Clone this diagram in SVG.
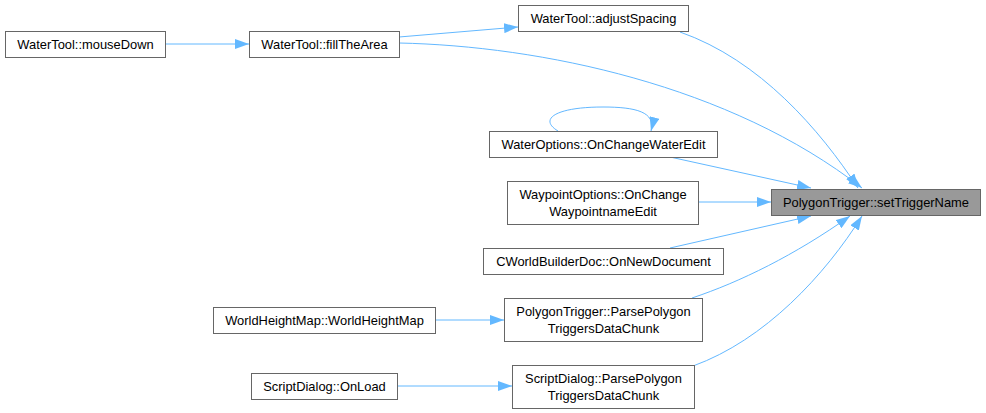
<svg xmlns="http://www.w3.org/2000/svg" width="986" height="413" viewBox="0 0 986 413">
<defs>
<style>
.n rect{fill:#fff;stroke:#666;stroke-width:1}
.n.h rect{fill:#999;stroke:#666}
.n text{font-family:"Liberation Sans",Arial,sans-serif;font-size:12.9px;fill:#000;text-anchor:middle}
.e path{fill:none;stroke:#63b8ff;stroke-width:1}
</style>
<marker id="a" markerUnits="userSpaceOnUse" markerWidth="14" markerHeight="10" refX="14" refY="5" orient="auto">
<path d="M0,0 L14,5 L0,10 z" fill="#63b8ff"/>
</marker>
</defs>
<rect width="986" height="413" fill="#fff"/>
<g class="e">
<path d="M166,44 L249,44" marker-end="url(#a)"/>
<path d="M399,37 L518,27" marker-end="url(#a)"/>
<path d="M399,43 C540,46 730,85 862,188" marker-end="url(#a)"/>
<path d="M680,32 C760,60 820,130 858,188" marker-end="url(#a)"/>
<path d="M558,131 C538,119 556,107 603,107 C636,107 656,112 651,131" marker-end="url(#a)"/>
<path d="M670,157 L811,188" marker-end="url(#a)"/>
<path d="M698,202 L771,202" marker-end="url(#a)"/>
<path d="M670,248 L811,216" marker-end="url(#a)"/>
<path d="M692,298 C740,282 795,255 850,216" marker-end="url(#a)"/>
<path d="M693,366 C765,340 825,275 862,216" marker-end="url(#a)"/>
<path d="M435,320 L504,320" marker-end="url(#a)"/>
<path d="M397,386 L512,386" marker-end="url(#a)"/>
</g>
<g id="mouseDown" class="n"><rect x="5.5" y="31.5" width="160" height="26"/><text x="85.5" y="49">WaterTool::mouseDown</text></g>
<g id="fillTheArea" class="n"><rect x="249.5" y="31.5" width="150" height="26"/><text x="324.5" y="49">WaterTool::fillTheArea</text></g>
<g id="adjustSpacing" class="n"><rect x="518.5" y="5.5" width="170" height="26"/><text x="603.5" y="23">WaterTool::adjustSpacing</text></g>
<g id="onChangeWaterEdit" class="n"><rect x="489.5" y="131.5" width="228" height="26"/><text x="603.5" y="149">WaterOptions::OnChangeWaterEdit</text></g>
<g id="onChangeWaypointnameEdit" class="n"><rect x="507.5" y="181.5" width="191" height="43"/><text x="603" y="199">WaypointOptions::OnChange</text><text x="603" y="216">WaypointnameEdit</text></g>
<g id="setTriggerName" class="n h"><rect x="771.5" y="189.5" width="209" height="26"/><text x="876" y="207">PolygonTrigger::setTriggerName</text></g>
<g id="onNewDocument" class="n"><rect x="483.5" y="248.5" width="240" height="26"/><text x="603.5" y="266">CWorldBuilderDoc::OnNewDocument</text></g>
<g id="ptParse" class="n"><rect x="504.5" y="298.5" width="198" height="43"/><text x="603.5" y="316">PolygonTrigger::ParsePolygon</text><text x="603.5" y="333">TriggersDataChunk</text></g>
<g id="sdParse" class="n"><rect x="512.5" y="365.5" width="182" height="43"/><text x="603.5" y="383">ScriptDialog::ParsePolygon</text><text x="603.5" y="400">TriggersDataChunk</text></g>
<g id="worldHeightMap" class="n"><rect x="213.5" y="307.5" width="222" height="26"/><text x="324.5" y="325">WorldHeightMap::WorldHeightMap</text></g>
<g id="onLoad" class="n"><rect x="251.5" y="373.5" width="146" height="26"/><text x="324.5" y="391">ScriptDialog::OnLoad</text></g>
</svg>
